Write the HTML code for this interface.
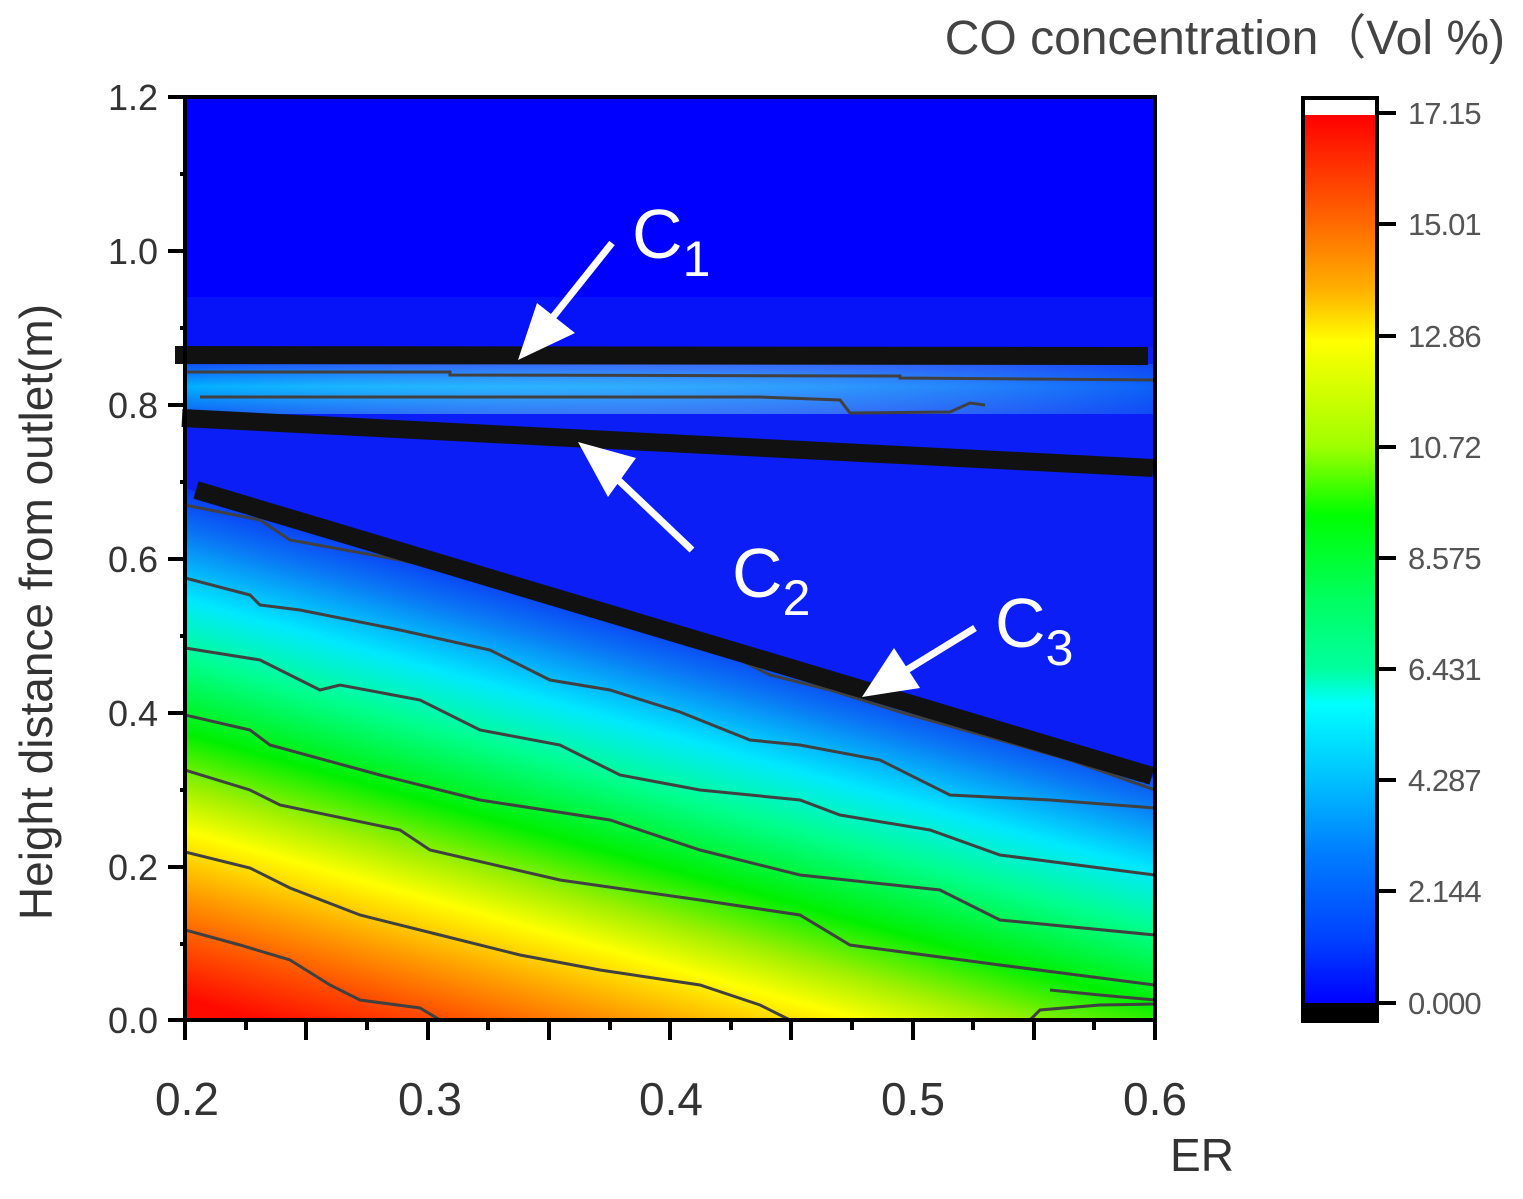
<!DOCTYPE html>
<html><head><meta charset="utf-8"><style>
html,body{margin:0;padding:0;background:#fff;}
svg{display:block;}
text{font-family:"Liberation Sans",sans-serif;}
</style></head><body>
<svg width="1523" height="1199" viewBox="0 0 1523 1199" xmlns="http://www.w3.org/2000/svg">
<defs>
<linearGradient id="field" gradientUnits="userSpaceOnUse" x1="185" y1="480" x2="44.8" y2="980.7">
<stop offset="0" stop-color="#0a2af5"/>
<stop offset="0.1" stop-color="#0a78f5"/>
<stop offset="0.22" stop-color="#00e8ff"/>
<stop offset="0.33" stop-color="#00ff90"/>
<stop offset="0.47" stop-color="#00f000"/>
<stop offset="0.57" stop-color="#a0f000"/>
<stop offset="0.65" stop-color="#ffff00"/>
<stop offset="0.76" stop-color="#ffa000"/>
<stop offset="0.86" stop-color="#ff5000"/>
<stop offset="0.96" stop-color="#ff0a00"/>
</linearGradient>
<linearGradient id="band" x1="0" y1="0" x2="0" y2="1">
<stop offset="0" stop-color="#1050f5"/>
<stop offset="0.45" stop-color="#00b0ff"/>
<stop offset="1" stop-color="#1060f5"/>
</linearGradient>
<linearGradient id="bandx" x1="0" y1="0" x2="1" y2="0">
<stop offset="0" stop-color="#fff" stop-opacity="0"/>
<stop offset="1" stop-color="#1040f5" stop-opacity="0.7"/>
</linearGradient>
<linearGradient id="cb" x1="0" y1="0" x2="0" y2="1">
<stop offset="0" stop-color="#ff0000"/>
<stop offset="0.123" stop-color="#ff6a00"/>
<stop offset="0.197" stop-color="#ffb000"/>
<stop offset="0.255" stop-color="#ffff00"/>
<stop offset="0.373" stop-color="#a0ff00"/>
<stop offset="0.45" stop-color="#00ff00"/>
<stop offset="0.545" stop-color="#00ff60"/>
<stop offset="0.625" stop-color="#00ffa0"/>
<stop offset="0.664" stop-color="#00ffff"/>
<stop offset="0.749" stop-color="#00c0ff"/>
<stop offset="0.828" stop-color="#0080ff"/>
<stop offset="0.93" stop-color="#0040ff"/>
<stop offset="1" stop-color="#0000ff"/>
</linearGradient>
<clipPath id="plot"><rect x="185" y="97" width="970" height="923"/></clipPath>
</defs>

<g clip-path="url(#plot)">
<rect x="185" y="97" width="970" height="923" fill="url(#field)"/>
<polygon points="185,97 1155,97 1155,778 185,488" fill="#0a1ef5"/>
<rect x="185" y="97" width="970" height="200" fill="#0000ff"/>
<rect x="185" y="297" width="970" height="50" fill="#0612f8"/>
<rect x="185" y="364" width="970" height="50" fill="url(#band)"/>
<rect x="185" y="364" width="970" height="50" fill="url(#bandx)"/>
<g fill="none" stroke="#404040" stroke-width="3">
<polyline points="185,372 450,372 450,375 900,376 900,378 1155,380"/>
<polyline points="200,397 560,397 760,397 840,400 850,413 950,412 970,403 985,405"/>
<polyline points="185,505 260,520 290,540 400,560 480,578 540,595 620,615 700,640 770,675 830,690 900,712 1000,740 1070,760 1155,790"/>
<polyline points="185,578 250,595 260,605 300,610 400,630 490,650 550,680 610,690 680,712 750,740 800,745 880,760 950,795 1050,800 1155,808"/>
<polyline points="185,648 260,660 320,690 340,685 420,700 480,730 560,745 620,775 700,790 800,800 840,815 930,830 1000,855 1155,875"/>
<polyline points="185,715 250,730 270,745 380,775 480,800 610,820 700,850 800,875 940,890 1000,920 1155,935"/>
<polyline points="185,770 250,790 280,805 400,830 430,850 560,880 700,900 800,915 850,945 1000,965 1155,985"/>
<polyline points="185,852 250,868 290,888 360,915 440,935 520,955 600,970 700,985 760,1005 790,1020"/>
<polyline points="185,930 240,945 290,960 330,985 360,1000 420,1008 440,1020"/>
<polyline points="1030,1020 1040,1010 1100,1005 1155,1004"/>
<polyline points="1050,990 1100,995 1155,1000"/>
</g>
</g>

<g stroke="#111" stroke-width="18" stroke-linecap="butt">
<line x1="175" y1="355" x2="1148" y2="356"/>
<line x1="182" y1="418" x2="1153" y2="468"/>
<line x1="196" y1="490" x2="1152" y2="776"/>
</g>

<g fill="#fff" stroke="#fff">
<line x1="612" y1="243" x2="545" y2="327" stroke-width="7"/>
<polygon points="518,360 537,303 575,333" stroke="none"/>
<line x1="692" y1="550" x2="612" y2="474" stroke-width="7"/>
<polygon points="578,442 636,458 608,497" stroke="none"/>
<line x1="975" y1="628" x2="905" y2="671" stroke-width="7"/>
<polygon points="862,697 894,648 920,688" stroke="none"/>
</g>
<g fill="#fff" font-size="70">
<text x="632" y="258">C<tspan font-size="50" dy="18">1</tspan></text>
<text x="732" y="597">C<tspan font-size="50" dy="18">2</tspan></text>
<text x="995" y="647">C<tspan font-size="50" dy="18">3</tspan></text>
</g>

<rect x="185" y="97" width="970" height="923" stroke="#000" fill="none" stroke-width="4"/>
<g stroke="#000" stroke-width="4">
<line x1="168" y1="97" x2="185" y2="97"/><line x1="168" y1="251" x2="185" y2="251"/>
<line x1="168" y1="405" x2="185" y2="405"/><line x1="168" y1="559" x2="185" y2="559"/>
<line x1="168" y1="713" x2="185" y2="713"/><line x1="168" y1="867" x2="185" y2="867"/>
<line x1="168" y1="1020" x2="185" y2="1020"/>
<line x1="180" y1="174" x2="185" y2="174"/><line x1="180" y1="328" x2="185" y2="328"/>
<line x1="180" y1="482" x2="185" y2="482"/><line x1="180" y1="636" x2="185" y2="636"/>
<line x1="180" y1="790" x2="185" y2="790"/><line x1="180" y1="944" x2="185" y2="944"/>
<line x1="185" y1="1020" x2="185" y2="1040"/><line x1="306" y1="1020" x2="306" y2="1040"/>
<line x1="428" y1="1020" x2="428" y2="1040"/><line x1="549" y1="1020" x2="549" y2="1040"/>
<line x1="670" y1="1020" x2="670" y2="1040"/><line x1="791" y1="1020" x2="791" y2="1040"/>
<line x1="913" y1="1020" x2="913" y2="1040"/><line x1="1034" y1="1020" x2="1034" y2="1040"/>
<line x1="1155" y1="1020" x2="1155" y2="1040"/>
<line x1="246" y1="1020" x2="246" y2="1030"/><line x1="367" y1="1020" x2="367" y2="1030"/>
<line x1="488" y1="1020" x2="488" y2="1030"/><line x1="610" y1="1020" x2="610" y2="1030"/>
<line x1="731" y1="1020" x2="731" y2="1030"/><line x1="852" y1="1020" x2="852" y2="1030"/>
<line x1="973" y1="1020" x2="973" y2="1030"/><line x1="1094" y1="1020" x2="1094" y2="1030"/>
</g>
<g font-size="36" fill="#333" text-anchor="end">
<text x="158" y="110">1.2</text><text x="158" y="264">1.0</text>
<text x="158" y="418">0.8</text><text x="158" y="572">0.6</text>
<text x="158" y="726">0.4</text><text x="158" y="880">0.2</text>
<text x="158" y="1033">0.0</text>
</g>
<g font-size="46" fill="#333" text-anchor="middle">
<text x="187" y="1115">0.2</text><text x="430" y="1115">0.3</text>
<text x="671" y="1115">0.4</text><text x="913" y="1115">0.5</text>
<text x="1155" y="1115">0.6</text>
</g>
<text x="1202" y="1171" font-size="46" fill="#333" text-anchor="middle">ER</text>
<text transform="translate(52,612) rotate(-90)" font-size="46" fill="#333" text-anchor="middle">Height distance from outlet(m)</text>
<text x="1505" y="54" font-size="48" fill="#444" text-anchor="end">CO concentration（Vol %)</text>

<rect x="1304" y="99" width="72" height="16" fill="#fff"/>
<rect x="1304" y="115" width="72" height="888" fill="url(#cb)"/>
<rect x="1304" y="1003" width="72" height="18" fill="#000"/>
<rect x="1303" y="98" width="74" height="923" fill="none" stroke="#000" stroke-width="4"/>
<g stroke="#000" stroke-width="4">
<line x1="1377" y1="113" x2="1396" y2="113"/><line x1="1377" y1="224" x2="1396" y2="224"/>
<line x1="1377" y1="336" x2="1396" y2="336"/><line x1="1377" y1="447" x2="1396" y2="447"/>
<line x1="1377" y1="558" x2="1396" y2="558"/><line x1="1377" y1="669" x2="1396" y2="669"/>
<line x1="1377" y1="780" x2="1396" y2="780"/><line x1="1377" y1="891" x2="1396" y2="891"/>
<line x1="1377" y1="1003" x2="1396" y2="1003"/>
</g>
<g font-size="31" fill="#555" letter-spacing="-1">
<text x="1408" y="124">17.15</text><text x="1408" y="235">15.01</text>
<text x="1408" y="347">12.86</text><text x="1408" y="458">10.72</text>
<text x="1408" y="569">8.575</text><text x="1408" y="680">6.431</text>
<text x="1408" y="791">4.287</text><text x="1408" y="902">2.144</text>
<text x="1408" y="1014">0.000</text>
</g>
</svg>
</body></html>
